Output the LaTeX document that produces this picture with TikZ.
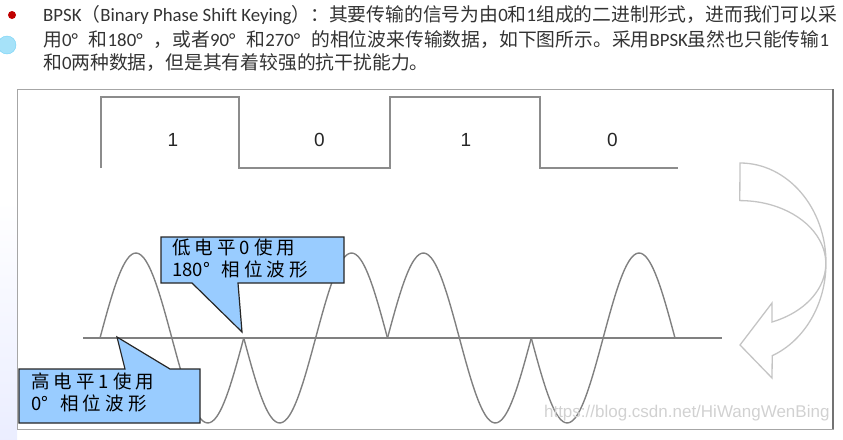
\documentclass[tikz,border=0pt]{standalone}
\usepackage{fontspec}
\usepackage{amsmath}
\usepackage{tikz}
\usetikzlibrary{positioning, calc}
\usepackage{xcolor}
\setmainfont{Carlito}
\newfontfamily\cjk{Noto Sans CJK SC}
\newfontfamily\callfont[LetterSpace=22]{Noto Sans CJK SC}
\newfontfamily\bitfont{Liberation Sans}
\newcommand{\lat}[1]{{\rmfamily #1}}
\definecolor{callblue}{HTML}{99CCFF}
\definecolor{wavegray}{HTML}{808080}
\definecolor{arrowgray}{HTML}{C4C4C4}

\begin{document}
\begin{tikzpicture}[x=1pt, y=-1pt, node distance=146.5pt, on grid,
		headtxt/.style={anchor=west, inner sep=0pt, text=black!80, font=\cjk\fontsize{18.8}{18.8}\selectfont},
		bitlabel/.style={text=black!85, font=\bitfont\fontsize{19}{19}\selectfont},
		callout/.style={fill=callblue, draw=black!85, line width=1.2pt, line join=miter},
		calltext/.style={anchor=north west, inner sep=0pt, align=left, font=\callfont\fontsize{18.5}{21.5}\selectfont},
		wave/.style={draw=wavegray, line width=1.4pt},
		sqline/.style={draw=black!45, line width=1.8pt}]
				\useasboundingbox (0,0) rectangle (843,439);
				\shade[top color=white, bottom color=cyan!14!blue!8] (0,200) rectangle (17,439);
				% heading
				\fill[red!75!black] (12,15) circle (4);
				\filldraw[fill=cyan!35, draw=cyan!55] (7,45) circle (9);
				\node[headtxt] (line_a) at (43,15) {\lat{BPSK}（\lat{Binary Phase Shift Keying}）：其要传输的信号为由\lat{0}和\lat{1}组成的二进制形式，进而我们可以采};
				\node[headtxt] (line_b) [below=25pt of line_a.west, anchor=west] {用\lat{0°}\hspace{11pt}和\lat{180°}\hspace{11pt}，或者\lat{90°}\hspace{11pt}和\lat{270°}\hspace{11pt}的相位波来传输数据，如下图所示。采用\lat{BPSK}虽然也只能传输\lat{1}};
				\node[headtxt] (line_c) [below=23pt of line_b.west, anchor=west] {和\lat{0}两种数据，但是其有着较强的抗干扰能力。};
				\draw[black!35, line width=1pt] (17,89) rectangle (833,429);
				\draw[black!55, line width=1.2pt] (833,89) -- (833,429);
				% bits
				\draw[sqline] (101,168) -- (101,97) -- (239,97) -- (239,168) -- (390,168) -- (390,97) -- (540,97) -- (540,168) -- (678,168);
				\node[bitlabel] (bit_1) at (173,140) {1};
				\node[bitlabel] (bit_2) [right=of bit_1] {0};
				\node[bitlabel] (bit_3) [right=of bit_2] {1};
				\node[bitlabel] (bit_4) [right=of bit_3] {0};
				% carrier
				\draw[wave, line width=1.2pt] (83,338) -- (722,338);
				\draw[wave] plot[domain=100:243.75, samples=60, smooth] (\x, {338-85*sin((\x-100)/143.75*360)});
				\draw[wave] plot[domain=243.75:387.5, samples=60, smooth] (\x, {338+85*sin((\x-243.75)/143.75*360)});
				\draw[wave] plot[domain=387.5:531.25, samples=60, smooth] (\x, {338-85*sin((\x-387.5)/143.75*360)});
				\draw[wave] plot[domain=531.25:675, samples=60, smooth] (\x, {338+85*sin((\x-531.25)/143.75*360)});
				% callouts
				\coordinate (low_tip) at (242,332);
				\coordinate (high_tip) at (117,337);
				\path[callout] (161,237) -- (344,237) -- (344,283) -- (238,283) -- (low_tip) -- (192,283) -- (161,283) -- cycle;
				\node[calltext] (call_low) at (172,239) {低电平0使用\\{\cjk 180°}\hspace{12pt}相位波形};
				\path[callout] (19,369) -- (125,369) -- (high_tip) -- (170,369) -- (200,369) -- (200,423) -- (19,423) -- cycle;
				\node[calltext] (call_high) at (31,373) {高电平1使用\\{\cjk 0°}\hspace{12pt}相位波形};
				% turn arrow
				\draw[arrowgray, line width=1.3pt, line join=miter] (740,163) arc[start angle=-90, end angle=68, x radius=86, y radius=100] -- (772,378) -- (740,345) -- (772,303) -- (772,322) arc[start angle=68, end angle=-90, x radius=86, y radius=63] -- cycle;
				\node[anchor=east, text=black!18, font=\bitfont\fontsize{17}{17}\selectfont] (mark) at (833,413) {https://blog.csdn.net/HiWangWenBing};
\end{tikzpicture}
\end{document}
